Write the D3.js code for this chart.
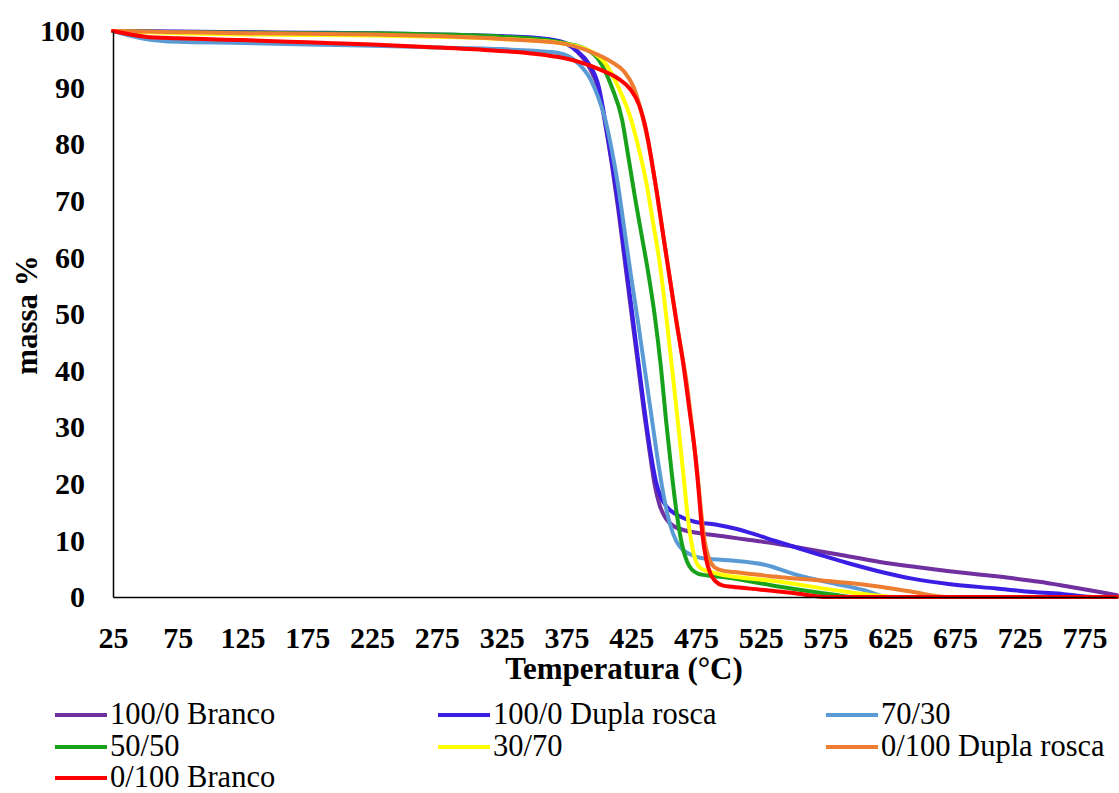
<!DOCTYPE html>
<html>
<head>
<meta charset="utf-8">
<script src="https://cdn.jsdelivr.net/npm/d3@7"></script>
<style>
  html, body { margin: 0; padding: 0; background: #fff; }
  svg { display: block; font-family: "Liberation Serif", "Times New Roman", serif; }
</style>
</head>
<body>
<svg id="chart" width="1119" height="793"></svg>
<script>
// Thermogravimetric curves: temperature (°C) vs. residual mass (%)
const xTicks = [25, 75, 125, 175, 225, 275, 325, 375, 425, 475, 525, 575, 625, 675, 725, 775];
const yTicks = [0, 10, 20, 30, 40, 50, 60, 70, 80, 90, 100];

const seriesNames = ["100/0 Branco", "100/0 Dupla rosca", "70/30", "50/50", "30/70", "0/100 Dupla rosca", "0/100 Branco"];
const seriesColors = ["#7030A0", "#3A1EE4", "#5B9BD5", "#18A21C", "#FFFF00", "#ED7D31", "#FF0000"];

// [temperature, mass %]
const branco100 = [[25,100],[75,99.8],[125,99.7],[175,99.6],[225,99.5],[275,99.3],[325,99.0],[360,98.5],[375,97.7],[383,96.4],[392,93.8],[400,89.5],[405,83.5],[410,76.5],[415,68.5],[420,59.5],[425,50.5],[430,41.5],[435,32.5],[439,26],[443,20],[447,16.2],[452,13.8],[458,12.5],[466,11.8],[477,11.3],[500,10.6],[515,10.1],[535,9.5],[553,8.8],[585,7.5],[617,6.2],[645,5.3],[669,4.6],[695,3.95],[720,3.3],[740,2.7],[760,1.95],[780,1.15],[792,0.65],[800,0.3]];
const dupla100 = [[25,100],[75,99.9],[125,99.8],[175,99.7],[225,99.6],[275,99.4],[325,99.1],[360,98.6],[375,97.8],[383,96.5],[392,94.3],[400,90.1],[405,84],[410,77],[415,69.5],[420,60.5],[425,51.5],[430,42.5],[435,33.5],[440,25.5],[444,20.5],[448,17.6],[453,15.8],[459,14.7],[466,13.9],[474,13.3],[490,12.8],[505,12.1],[520,11.1],[535,10.0],[553,8.7],[570,7.5],[592,6.0],[615,4.6],[643,3.2],[670,2.3],[707,1.5],[735,0.9],[759,0.5],[784,0],[800,0]];
const mix7030 = [[25,100],[50,98.6],[75,98.1],[125,97.9],[175,97.6],[225,97.4],[275,97.1],[325,96.8],[350,96.5],[369,96.1],[384,94.3],[394,91.3],[400,88],[405,84.3],[410,79],[415,72.5],[420,64.5],[425,56.5],[430,49],[435,41],[440,33],[445,25],[450,18],[455,12.8],[460,9.8],[465,8.3],[470,7.6],[479,6.9],[500,6.5],[528,5.7],[553,3.9],[579,2.5],[605,1.2],[623,0],[800,0]];
const mix5050 = [[25,100],[75,99.8],[125,99.7],[175,99.6],[225,99.6],[275,99.4],[325,99.0],[360,98.4],[375,97.8],[390,96.8],[400,94.9],[410,90.1],[418,84.3],[423,77.5],[428,70.5],[433,64],[438,57.5],[443,50],[448,40.5],[452,31],[456,22.5],[460,15],[464,9.5],[468,6.3],[472,4.8],[477,4.1],[484,3.8],[500,3.4],[540,1.8],[582,0.4],[597,0],[800,0]];
const mix3070 = [[25,100],[75,99.6],[125,99.4],[175,99.3],[225,99.2],[275,99.0],[325,98.6],[369,97.9],[392,96.6],[405,94.3],[415,90.1],[425,84.3],[430,80],[436,74],[442,66],[447,59],[453,47.7],[457,39.5],[461,31],[465,22.3],[469,13.5],[472,9],[475,6.3],[479,5.0],[485,4.5],[490,4.2],[540,2.7],[592,0.9],[630,0],[800,0]];
const dupla0100 = [[25,100],[75,99.8],[125,99.6],[175,99.5],[225,99.4],[275,99.1],[325,98.6],[369,97.9],[394,96.3],[410,94.5],[420,92.7],[427,90],[433,85.5],[438,80.5],[443,74],[448,66.5],[453,59],[458,51.5],[463,44.5],[468,37.5],[472,30],[476,22],[479,15],[482,9.5],[485,6.8],[489,5.3],[495,4.7],[505,4.4],[520,4.0],[540,3.5],[567,3.0],[592,2.5],[617,1.8],[640,1.0],[669,0],[800,0]];
const branco0100 = [[25,100],[50,99.0],[75,98.7],[125,98.4],[175,98.0],[225,97.6],[275,97.1],[315,96.6],[350,96.0],[369,95.4],[384,94.6],[402,93.1],[415,91.6],[424,89.8],[431,87],[435,84],[438,80.8],[441,76.8],[445,71.2],[450,63.5],[455,56],[460,48.5],[465,41.5],[470,33],[474,26],[477,19],[480,11],[483,6.5],[486,4.2],[490,2.8],[496,2.0],[503,1.8],[525,1.3],[550,0.7],[577,0],[800,0]];

const seriesData = [branco100, dupla100, mix7030, mix5050, mix3070, dupla0100, branco0100];

const svg = d3.select("#chart");
const x = d3.scaleLinear().domain([25, 800]).range([113, 1117]);
const y = d3.scaleLinear().domain([0, 100]).range([597, 31]);

// Curves
const line = d3.line()
  .x(d => x(d[0]))
  .y(d => y(d[1]))
  .curve(d3.curveMonotoneX);

svg.append("g")
  .selectAll("path")
  .data(seriesData)
  .join("path")
  .attr("d", line)
  .attr("fill", "none")
  .attr("stroke", (d, i) => seriesColors[i])
  .attr("stroke-width", 4)
  .attr("stroke-linejoin", "round")
  .attr("stroke-linecap", "round");

// Axes (no tick marks, bold serif labels)
const xAxis = svg.append("g")
  .attr("transform", `translate(0,${y(0)})`)
  .call(d3.axisBottom(x).tickValues(xTicks).tickSize(0).tickPadding(30).tickFormat(d3.format("d")));
xAxis.select(".domain").attr("stroke", "#000").attr("stroke-width", 1.5);
xAxis.selectAll("text")
  .attr("font-family", "Liberation Serif, Times New Roman, serif")
  .attr("font-size", 30)
  .attr("font-weight", "bold")
  .attr("fill", "#000");

const yAxis = svg.append("g")
  .attr("transform", `translate(${x(25)},0)`)
  .call(d3.axisLeft(y).tickValues(yTicks).tickSize(0).tickPadding(28).tickFormat(d3.format("d")));
yAxis.select(".domain").attr("stroke", "#000").attr("stroke-width", 1.5);
yAxis.selectAll("text")
  .attr("font-family", "Liberation Serif, Times New Roman, serif")
  .attr("font-size", 30)
  .attr("font-weight", "bold")
  .attr("fill", "#000");

// Axis titles
svg.append("text")
  .attr("x", 624)
  .attr("y", 679)
  .attr("text-anchor", "middle")
  .attr("font-size", 31)
  .attr("font-weight", "bold")
  .text("Temperatura (°C)");

svg.append("text")
  .attr("transform", "translate(37,315) rotate(-90)")
  .attr("text-anchor", "middle")
  .attr("font-size", 31)
  .attr("font-weight", "bold")
  .text("massa %");

// Legend: three columns, three rows
const legendCols = [55, 438, 826];
const legendRows = [715, 747, 778];
const legend = svg.append("g")
  .selectAll("g")
  .data(seriesNames)
  .join("g")
  .attr("transform", (d, i) => `translate(${legendCols[i % 3]},${legendRows[Math.floor(i / 3)]})`);

legend.append("line")
  .attr("x1", 0).attr("x2", 52)
  .attr("y1", 0).attr("y2", 0)
  .attr("stroke", (d, i) => seriesColors[i])
  .attr("stroke-width", 4);

legend.append("text")
  .attr("x", 55)
  .attr("y", 9)
  .attr("font-size", 30.5)
  .attr("fill", "#000")
  .text(d => d);
</script>
</body>
</html>
